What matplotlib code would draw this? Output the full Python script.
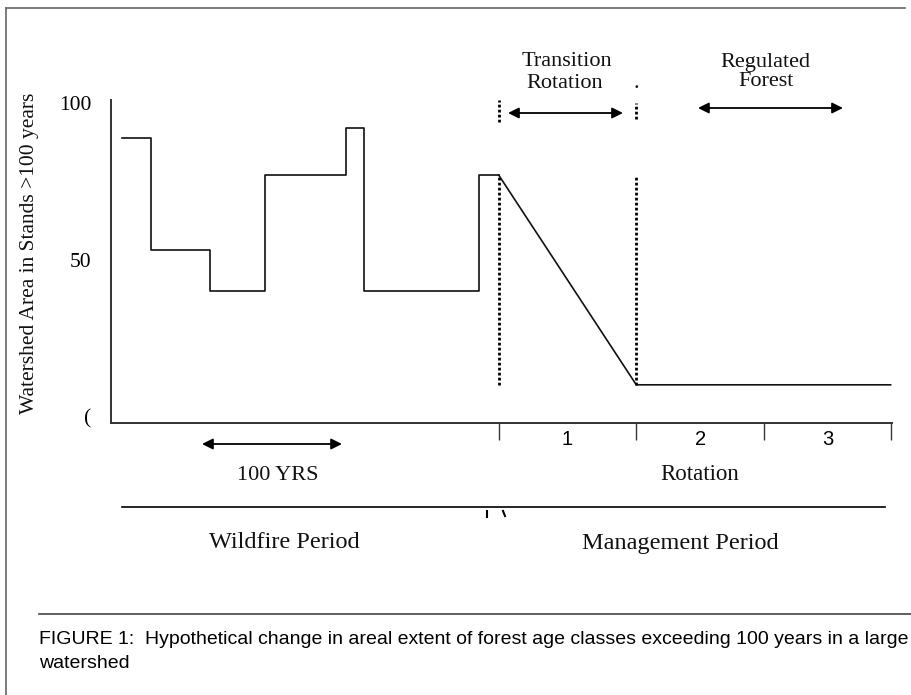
import matplotlib
matplotlib.use("Agg")
import matplotlib.pyplot as plt
from matplotlib.lines import Line2D

# wildfire period: step breakpoints (years) and area level between them (%)
fire_years = [8, 29, 71, 111, 169, 182, 265, 279]
fire_area = [89, 53, 40, 77, 92, 40, 77]

# management period: conversion over first rotation, then regulated
mgmt_years = [279, 378, 561]
mgmt_area = [77, 10, 10]

rotation_bounds = [279, 378, 470, 561]
rotation_labels = ["1", "2", "3"]

y_ticks = [0, 50, 100]
y_tick_labels = ["(", "50", "100"]

W, H = 911, 695
SERIF = "Liberation Serif"
SANS = "Liberation Sans"


def fx(px):
    return px / W


def fy(py):
    return 1 - py / H


def fig_line(fig, x0, y0, x1, y1, color="#333333", lw=1.2):
    fig.add_artist(Line2D([fx(x0), fx(x1)], [fy(y0), fy(y1)],
                          transform=fig.transFigure, color=color, lw=lw))


def arrow(ax, x0, x1, ypix):
    ax.annotate("", xy=(x0, H - ypix), xytext=(x1, H - ypix),
                xycoords=("data", "figure pixels"),
                arrowprops=dict(arrowstyle="<|-|>", color="black", lw=1.3,
                                mutation_scale=16, shrinkA=0, shrinkB=0),
                annotation_clip=False)


fig = plt.figure(figsize=(W / 100, H / 100), dpi=100)
ax = fig.add_axes([fx(111), fy(423), fx(892) - fx(111), fy(100) - fy(423)])

ax.step(fire_years, fire_area + [fire_area[-1]], where="post",
        color="#111111", lw=1.2)
ax.plot(mgmt_years, mgmt_area, color="#111111", lw=1.2)

# rotation boundaries
dot = (0, (1, 0.8))
ax.vlines(mgmt_years[:2], mgmt_area[1], mgmt_area[0], color="black",
          lw=2, linestyles=[dot])
ax.vlines(rotation_bounds[0], 94, 101, color="black", lw=2,
          linestyles=[dot], clip_on=False)
ax.vlines(rotation_bounds[1], 95, 100, color="black", lw=2,
          linestyles=[dot], clip_on=False)

ax.set_xlim(0, 562)
ax.set_ylim(-2.2, 101)
for s in ["top", "right"]:
    ax.spines[s].set_visible(False)
for s in ["left", "bottom"]:
    ax.spines[s].set_color("#333333")
    ax.spines[s].set_linewidth(1.4)

ax.set_yticks(y_ticks)
ax.set_yticklabels(y_tick_labels, fontfamily=SERIF, fontsize=15.5)
ax.tick_params(axis="y", length=0, pad=14)

ax.set_xticks(rotation_bounds)
ax.set_xticklabels([])
ax.tick_params(axis="x", which="major", length=12, width=1.0,
               color="#333333")
mids = [(a + b) / 2 for a, b in zip(rotation_bounds[:-1], rotation_bounds[1:])]
ax.set_xticks(mids, minor=True)
ax.set_xticklabels(rotation_labels, minor=True, fontsize=14.5,
                   fontfamily=SANS)
ax.tick_params(axis="x", which="minor", length=0, pad=5)

# arrows
arrow(ax, 285.7, 368.4, 113)
arrow(ax, 422.4, 526.7, 108)
arrow(ax, 65.5, 166.2, 444)

txt = dict(family=SERIF, ha="center", va="center", color="#111111")
fig.text(fx(567), fy(62), "Transition", fontsize=16, **txt)
fig.text(fx(565), fy(83), "Rotation", fontsize=16, **txt)
fig.text(fx(636), fy(84), ".", fontsize=16, **txt)
fig.text(fx(765), fy(62), "Regulated", fontsize=16, **txt)
fig.text(fx(766), fy(82), "Forest", fontsize=16, **txt)
fig.text(fx(278), fy(475), "100 YRS", fontsize=16, **txt)
fig.text(fx(700), fy(475), "Rotation", fontsize=16.5, **txt)
fig.text(fx(284), fy(543), "Wildfire Period", fontsize=17.5, **txt)
fig.text(fx(680), fy(543), "Management Period", fontsize=17.5, **txt)
fig.text(fx(30), fy(253), "Watershed Area in Stands >100 years",
         fontsize=15.5, rotation=90, **txt)

fig.text(fx(39), fy(640), "FIGURE 1:  Hypothetical change in areal extent of "
         "forest age classes exceeding 100 years in a large",
         family=SANS, fontsize=14, ha="left", va="center")
fig.text(fx(39), fy(663), "watershed", family=SANS, fontsize=14,
         ha="left", va="center")

# period divider and frame
fig_line(fig, 122, 507, 885, 507, color="black")
fig_line(fig, 487, 511, 487, 517, color="black", lw=1.5)
fig_line(fig, 503, 511, 505, 516, color="black", lw=1.5)
fig_line(fig, 39, 614, 911, 614, color="#444444")
fig_line(fig, 6, 8, 6, 695, color="#666666")
fig_line(fig, 6, 8, 905, 8, color="#666666")

fig.savefig("out.png", dpi=100)
